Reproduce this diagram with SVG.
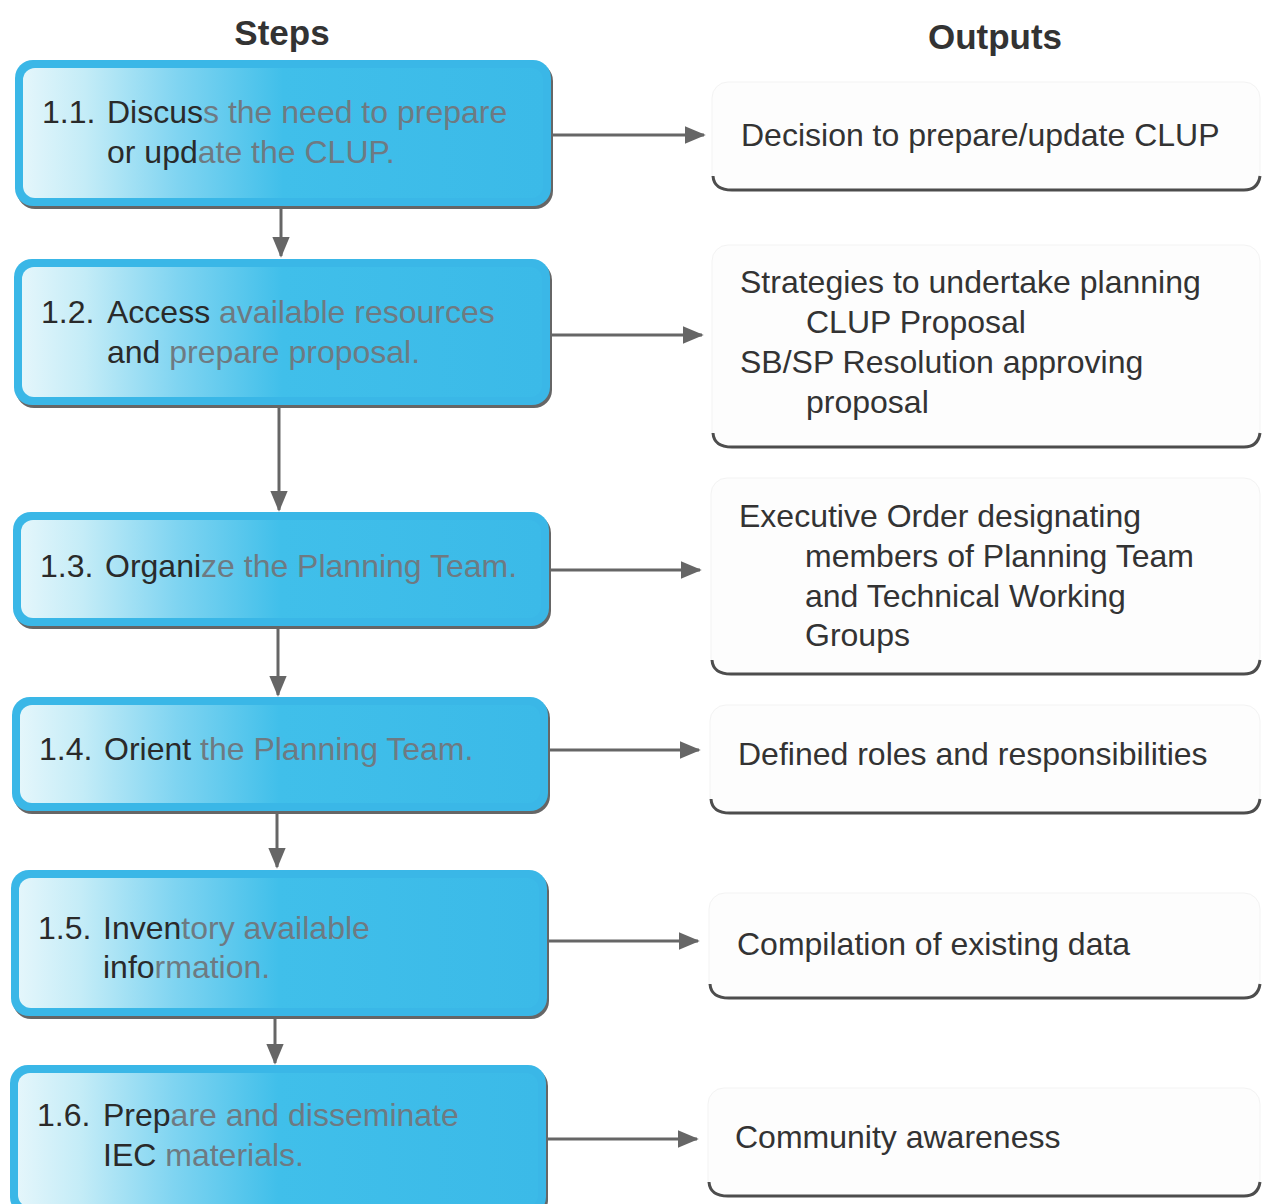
<svg xmlns="http://www.w3.org/2000/svg" width="1262" height="1204" viewBox="0 0 1262 1204">
<style>
  text { font-family: "Liberation Sans", Arial, sans-serif; font-size: 32px; }
  .hdr { font-weight: bold; fill: #333; text-anchor: middle; font-size: 35px; }
  .dk { fill: #2a2a2a; }
  .gy { fill: #6e7a82; }
  .out { fill: #333; }
  .outer { fill: #3ab7e7; }
  .shadow { fill: #666; }
  .inner { fill: url(#ing); }
  .obox { fill: #fdfdfd; stroke: #f3f3f3; stroke-width: 1; }
  .obot { fill: none; stroke: #4d4d4d; stroke-width: 3; }
  .conn { stroke: #666; stroke-width: 3; fill: none; }
</style>
<defs>
  <linearGradient id="ing" x1="0" y1="0" x2="1" y2="0">
    <stop offset="0" stop-color="#e4f6fb"/>
    <stop offset="0.12" stop-color="#c4ecf7"/>
    <stop offset="0.3" stop-color="#7fd4f1"/>
    <stop offset="0.5" stop-color="#40bfea"/>
    <stop offset="1" stop-color="#3bbae8"/>
  </linearGradient>
  <marker id="ah" viewBox="0 0 12 10" refX="11" refY="5" markerWidth="7" markerHeight="6" markerUnits="strokeWidth" orient="auto">
    <path d="M0,0 L12,5 L0,10 z" fill="#666"/>
  </marker>
</defs>
<rect width="1262" height="1204" fill="#ffffff"/>

<text class="hdr" x="282" y="45">Steps</text>
<text class="hdr" x="995" y="49">Outputs</text>

<g id="connectors">
  <line class="conn" x1="551" y1="135" x2="704" y2="135" marker-end="url(#ah)"/>
  <line class="conn" x1="550" y1="335" x2="702" y2="335" marker-end="url(#ah)"/>
  <line class="conn" x1="549" y1="570" x2="700" y2="570" marker-end="url(#ah)"/>
  <line class="conn" x1="548" y1="750" x2="699" y2="750" marker-end="url(#ah)"/>
  <line class="conn" x1="547" y1="941" x2="698" y2="941" marker-end="url(#ah)"/>
  <line class="conn" x1="546" y1="1139" x2="697" y2="1139" marker-end="url(#ah)"/>
  <line class="conn" x1="281" y1="208" x2="281" y2="256" marker-end="url(#ah)"/>
  <line class="conn" x1="279" y1="408" x2="279" y2="510" marker-end="url(#ah)"/>
  <line class="conn" x1="278" y1="628" x2="278" y2="695" marker-end="url(#ah)"/>
  <line class="conn" x1="277" y1="813" x2="277" y2="867" marker-end="url(#ah)"/>
  <line class="conn" x1="275" y1="1018" x2="275" y2="1063" marker-end="url(#ah)"/>
</g>

<g id="step1">
  <rect class="shadow" x="17" y="63" width="536" height="146" rx="18"/>
  <rect class="outer" x="15" y="60" width="536" height="146" rx="18"/>
  <rect class="inner" x="23" y="68" width="520" height="130" rx="12"/>
  <text class="dk" x="42" y="123">1.1.<tspan x="107">Discus</tspan><tspan class="gy">s the need to prepare</tspan></text>
  <text class="dk" x="107" y="163">or upd<tspan class="gy">ate the CLUP.</tspan></text>
</g>
<g id="step2">
  <rect class="shadow" x="16" y="262" width="536" height="146" rx="18"/>
  <rect class="outer" x="14" y="259" width="536" height="146" rx="18"/>
  <rect class="inner" x="22" y="267" width="520" height="130" rx="12"/>
  <text class="dk" x="41" y="323">1.2.<tspan x="107">Access</tspan><tspan class="gy"> available resources</tspan></text>
  <text class="dk" x="107" y="363">and<tspan class="gy"> prepare proposal.</tspan></text>
</g>
<g id="step3">
  <rect class="shadow" x="15" y="515" width="536" height="114" rx="18"/>
  <rect class="outer" x="13" y="512" width="536" height="114" rx="18"/>
  <rect class="inner" x="21" y="520" width="520" height="98" rx="12"/>
  <text class="dk" x="40" y="577">1.3.<tspan x="105">Organi</tspan><tspan class="gy">ze the Planning Team.</tspan></text>
</g>
<g id="step4">
  <rect class="shadow" x="14" y="700" width="536" height="114" rx="18"/>
  <rect class="outer" x="12" y="697" width="536" height="114" rx="18"/>
  <rect class="inner" x="20" y="705" width="520" height="98" rx="12"/>
  <text class="dk" x="39" y="760">1.4.<tspan x="104">Orient</tspan><tspan class="gy"> the Planning Team.</tspan></text>
</g>
<g id="step5">
  <rect class="shadow" x="13" y="873" width="536" height="146" rx="18"/>
  <rect class="outer" x="11" y="870" width="536" height="146" rx="18"/>
  <rect class="inner" x="19" y="878" width="520" height="130" rx="12"/>
  <text class="dk" x="38" y="939">1.5.<tspan x="103">Inven</tspan><tspan class="gy">tory available</tspan></text>
  <text class="dk" x="103" y="978">info<tspan class="gy">rmation.</tspan></text>
</g>
<g id="step6">
  <rect class="shadow" x="12" y="1068" width="536" height="150" rx="18"/>
  <rect class="outer" x="10" y="1065" width="536" height="150" rx="18"/>
  <rect class="inner" x="18" y="1073" width="520" height="134" rx="12"/>
  <text class="dk" x="37" y="1126">1.6.<tspan x="103">Prep</tspan><tspan class="gy">are and disseminate</tspan></text>
  <text class="dk" x="103" y="1166">IEC<tspan class="gy"> materials.</tspan></text>
</g>

<g id="output1">
  <rect class="obox" x="712" y="82" width="548" height="108" rx="16"/>
  <path class="obot" d="M713,176 Q714,190 732,190 L1244,190 Q1258,190 1260,176"/>
  <text class="out" x="741" y="146">Decision to prepare/update CLUP</text>
</g>
<g id="output2">
  <rect class="obox" x="712" y="245" width="548" height="202" rx="16"/>
  <path class="obot" d="M713,433 Q714,447 732,447 L1244,447 Q1258,447 1260,433"/>
  <text class="out" x="740" y="293">Strategies to undertake planning</text>
  <text class="out" x="806" y="333">CLUP Proposal</text>
  <text class="out" x="740" y="373">SB/SP Resolution approving</text>
  <text class="out" x="806" y="413">proposal</text>
</g>
<g id="output3">
  <rect class="obox" x="711" y="478" width="549" height="196" rx="16"/>
  <path class="obot" d="M712,660 Q713,674 731,674 L1244,674 Q1258,674 1260,660"/>
  <text class="out" x="739" y="527">Executive Order designating</text>
  <text class="out" x="805" y="567">members of Planning Team</text>
  <text class="out" x="805" y="607">and Technical Working</text>
  <text class="out" x="805" y="646">Groups</text>
</g>
<g id="output4">
  <rect class="obox" x="710" y="705" width="550" height="108" rx="16"/>
  <path class="obot" d="M711,799 Q712,813 730,813 L1244,813 Q1258,813 1260,799"/>
  <text class="out" x="738" y="765">Defined roles and responsibilities</text>
</g>
<g id="output5">
  <rect class="obox" x="709" y="893" width="551" height="105" rx="16"/>
  <path class="obot" d="M710,984 Q711,998 729,998 L1244,998 Q1258,998 1260,984"/>
  <text class="out" x="737" y="955">Compilation of existing data</text>
</g>
<g id="output6">
  <rect class="obox" x="708" y="1088" width="552" height="108" rx="16"/>
  <path class="obot" d="M709,1182 Q710,1196 728,1196 L1244,1196 Q1258,1196 1260,1182"/>
  <text class="out" x="735" y="1148">Community awareness</text>
</g>
</svg>
